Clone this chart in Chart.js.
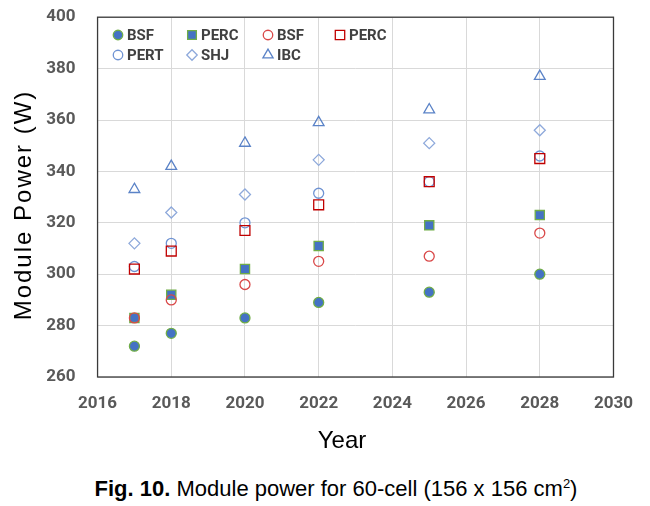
<!DOCTYPE html>
<html>
<head>
<meta charset="utf-8">
<script src="https://cdn.jsdelivr.net/npm/chart.js@4/dist/chart.umd.min.js"></script>
<style>
  body { margin: 0; background: #fff; }
  #wrap { position: relative; width: 650px; height: 506px; overflow: hidden; }
  #myChart { position: absolute; top: -15px; left: 0; }
  #cap {
    position: absolute; top: 476px; left: 22px; width: 628px;
    text-align: center; font: 22px "Liberation Sans", Arial, sans-serif; color: #000;
  }
  #cap sup { font-size: 13px; }
</style>
</head>
<body>
<div id="wrap">
  <canvas id="myChart" width="650" height="477"></canvas>
  <div id="cap"><b>Fig. 10.</b> Module power for 60-cell (156 x 156 cm<sup>2</sup>)</div>
</div>
<script>
const years = [2017, 2018, 2020, 2022, 2025, 2028];
const bsfFilled = [272, 277, 283, 289, 293, 300];
const percFilled = [283, 292, 302, 311, 319, 323];
const bsfOpen = [283, 290, 296, 305, 307, 316];
const percOpen = [302, 309, 317, 327, 336, 345];
const pert = [303, 312, 320, 331.5, 336, 346];
const shj = [312, 324, 331, 344.5, 351, 356];
const ibc = [333, 342, 351, 359, 364, 377];
const labels = ["BSF", "PERC", "BSF", "PERC", "PERT", "SHJ", "IBC"];
const xTitle = "Year";
const yTitle = "Module Power (W)";

const xMin = 2016, xMax = 2030, xStep = 2;
const yMin = 260, yMax = 400, yStep = 20;

const pts = (vals) => years.map((y, i) => ({ x: y, y: vals[i] }));
const clear = "rgba(0,0,0,0)";

const series = [
  { data: bsfFilled, style: "circle", radius: 5, fill: "#4472C4", line: "#70AD47", order: 7 },
  { data: percFilled, style: "rect", radius: 6.5, fill: "#4472C4", line: "#70AD47", order: 6 },
  { data: bsfOpen, style: "circle", radius: 5, fill: clear, line: "#D94848", order: 4 },
  { data: percOpen, style: "rect", radius: 7, fill: clear, line: "#C00000", order: 3 },
  { data: pert, style: "circle", radius: 5, fill: clear, line: "#6F93D3", order: 5 },
  { data: shj, style: "rectRot", radius: 5.5, fill: clear, line: "#8EA9DB", order: 2 },
  { data: ibc, style: "triangle", radius: 6.2, fill: clear, line: "#5B83C7", order: 1 },
];

// canvas sits 15px above the page top, so page y + 15 = canvas y
const shift = 15;
// legend drawn inside the plot like the excel one (4 + 3 items)
const legendCols = [118, 192, 268, 340];
const legendRows = [35 + shift, 55 + shift];

const extras = {
  id: "extras",
  beforeDatasetsDraw(chart) {
    const { ctx, chartArea: a } = chart;
    ctx.save();
    ctx.strokeStyle = "#3a3a3a";
    ctx.lineWidth = 1.3;
    ctx.strokeRect(a.left, a.top, a.right - a.left, a.bottom - a.top);
    ctx.restore();
  },
  afterDraw(chart) {
    const ctx = chart.ctx;
    ctx.save();
    ctx.font = "bold 15px Roboto";
    ctx.textBaseline = "middle";
    chart.data.datasets.forEach((ds, i) => {
      const x = legendCols[i % 4];
      const y = legendRows[Math.floor(i / 4)];
      ctx.fillStyle = ds.backgroundColor;
      ctx.strokeStyle = ds.borderColor;
      ctx.lineWidth = ds.borderWidth;
      Chart.helpers.drawPoint(ctx, {
        pointStyle: ds.pointStyle, radius: ds.pointRadius * 0.95,
        borderWidth: ds.borderWidth, rotation: 0
      }, x, y);
      ctx.fillStyle = "#404040";
      ctx.fillText(ds.label, x + 9, y + 1);
    });

    // axis titles
    ctx.fillStyle = "#000";
    ctx.font = "24px 'Liberation Sans'";
    ctx.textAlign = "center";
    ctx.textBaseline = "alphabetic";
    ctx.fillText(xTitle, 342, 448 + shift);
    ctx.translate(31, 205 + shift);
    ctx.rotate(-Math.PI / 2);
    ctx.letterSpacing = "2px";
    ctx.fillText(yTitle, 0, 0);
    ctx.restore();
  }
};

const tickFont = { family: "Roboto", size: 17, weight: "bold" };

const ctx = document.getElementById("myChart").getContext("2d");
const myChart = new Chart(ctx, {
  type: "scatter",
  data: {
    datasets: series.map((s, i) => ({
      label: labels[i],
      data: pts(s.data),
      pointStyle: s.style,
      pointRadius: s.radius,
      pointHoverRadius: s.radius,
      backgroundColor: s.fill,
      borderColor: s.line,
      borderWidth: 1.3,
      order: s.order,
    })),
  },
  options: {
    responsive: false,
    animation: false,
    devicePixelRatio: 1,
    layout: { padding: { top: 5, right: 22, bottom: 30.6, left: 24.3 } },
    plugins: { legend: { display: false }, tooltip: { enabled: false } },
    scales: {
      x: {
        type: "linear",
        min: xMin, max: xMax,
        ticks: { stepSize: xStep, padding: 17, color: "#595959",
                 callback: (v) => String(v), font: tickFont },
        grid: { color: "#D9D9D9", drawTicks: false },
        border: { display: false },
      },
      y: {
        min: yMin, max: yMax,
        ticks: { stepSize: yStep, padding: 22, color: "#595959", font: tickFont },
        grid: { color: "#D9D9D9", drawTicks: false },
        border: { display: false },
      },
    },
  },
  plugins: [extras],
});
</script>
</body>
</html>
